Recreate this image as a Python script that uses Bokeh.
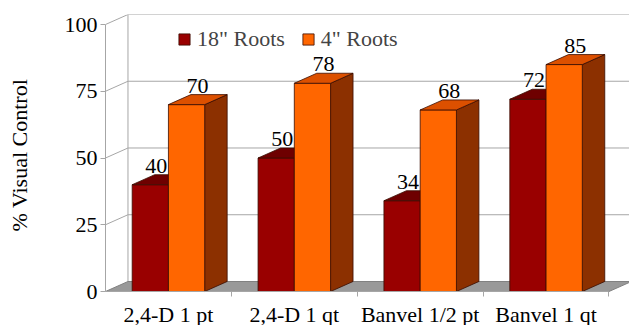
from bokeh.plotting import figure
from bokeh.models import Range1d, FixedTicker, Legend, LegendItem, ColumnDataSource, Title
from bokeh.embed import file_html
from bokeh.resources import INLINE

# ---- data ----
categories = ["2,4-D 1 pt", "2,4-D 1 qt", "Banvel 1/2 pt", "Banvel 1 qt"]
roots18 = [40, 50, 34, 72]
roots4 = [70, 78, 68, 85]
series_names = ['18" Roots', '4" Roots']
y_ticks = [0, 25, 50, 75, 100]
y_title = "% Visual Control"

# ---- style ----
FONT = "Liberation Serif"
FS = "22px"
DX = 0.1786   # 3D depth offset (x, category units)
DY = 3.75     # 3D depth offset (y, value units)
BW = 0.288    # bar width
GRID = "#a6a6a6"
EDGE = "#3a0c00"
C_DARK = ("#990000", "#6e0000", "#5a0000")      # front, top, side
C_ORANGE = ("#ff6600", "#dc5000", "#8c3000")

n = len(categories)
xs = list(range(n))

p = figure(width=629, height=325, output_backend="svg", toolbar_location=None,
           x_range=Range1d(-0.5, 3.663), y_range=Range1d(-12.73, 103.75),
           min_border_left=105, min_border_right=0, min_border_top=14,
           min_border_bottom=0)
p.outline_line_color = None
p.xgrid.visible = False
p.ygrid.visible = False

# back wall grid lines + left wall diagonals
gx, gy = [], []
for v in y_ticks[1:]:
    gx.append([-0.5, -0.5 + DX, n - 0.5 + DX])
    gy.append([v, v + DY, v + DY])
gx.append([-0.5 + DX, -0.5 + DX])
gy.append([DY, y_ticks[-1] + DY])
p.multi_line(gx, gy, line_color=GRID, line_width=1)

# floor
p.patch([-0.5, n - 0.5, n - 0.5 + DX, -0.5 + DX], [0, 0, DY, DY],
        fill_color="#999999", line_color="#808080", line_width=1)


def bars(vals, lefts, cols):
    rights = [l + BW for l in lefts]
    sx = [[r, r + DX, r + DX, r] for r in rights]
    sy = [[0, DY, v + DY, v] for v in vals]
    p.patches(sx, sy, fill_color=cols[2], line_color=EDGE, line_width=0.8)
    r = p.quad(left=lefts, right=rights, bottom=0, top=vals,
               fill_color=cols[0], line_color=EDGE, line_width=0.8)
    tx = [[l, rr, rr + DX, l + DX] for l, rr in zip(lefts, rights)]
    ty = [[v, v, v + DY, v + DY] for v in vals]
    p.patches(tx, ty, fill_color=cols[1], line_color=EDGE, line_width=0.8)
    return r


r1 = bars(roots18, [x - BW for x in xs], C_DARK)
r2 = bars(roots4, [x for x in xs], C_ORANGE)

# value labels
for vals, lefts, off in ((roots18, [x - BW for x in xs], 6),
                         (roots4, [x for x in xs], 11)):
    src = ColumnDataSource(dict(x=[l + BW / 2 for l in lefts],
                                y=[v + DY for v in vals],
                                t=[str(v) for v in vals]))
    p.text(x="x", y="y", text="t", source=src, x_offset=off, y_offset=-9,
           text_align="center", text_baseline="alphabetic",
           text_font={"value": FONT}, text_font_size=FS, text_color="black")

# y axis
ya = p.yaxis[0]
ya.ticker = FixedTicker(ticks=y_ticks)
ya.bounds = (0, 100)
ya.axis_line_color = GRID
ya.major_tick_line_color = GRID
ya.major_tick_in = 0
ya.major_tick_out = 5
ya.minor_tick_line_color = None
ya.major_label_text_font = FONT
ya.major_label_text_font_size = FS
ya.major_label_text_color = "black"
ya.major_label_standoff = 3

# spacer panel between the axis and its title, then the title itself
p.add_layout(Title(text=" ", text_font_size="1px", standoff=26), "left")
p.add_layout(Title(text=y_title, text_font=FONT, text_font_size=FS,
                   text_font_style="normal", text_color="black",
                   align="left", offset=94, standoff=2), "left")

# x axis (fixed at value 0 so labels sit below the floor)
xa = p.xaxis[0]
xa.fixed_location = 0
xa.ticker = FixedTicker(ticks=xs, minor_ticks=[x + 0.5 for x in xs])
xa.major_label_overrides = {i: c for i, c in enumerate(categories)}
xa.bounds = (-0.5, n - 0.5)
xa.axis_line_color = GRID
xa.major_tick_in = 0
xa.major_tick_out = 0
xa.major_tick_line_color = None
xa.minor_tick_in = 0
xa.minor_tick_out = 5
xa.minor_tick_line_color = GRID
xa.major_label_text_font = FONT
xa.major_label_text_font_size = FS
xa.major_label_text_color = "black"
xa.major_label_standoff = 5

legend = Legend(items=[LegendItem(label=series_names[0], renderers=[r1]),
                       LegendItem(label=series_names[1], renderers=[r2])],
                orientation="horizontal", location=(72, 273),
                border_line_color=None, background_fill_alpha=0,
                label_text_font=FONT, label_text_font_size=FS,
                glyph_width=14, glyph_height=14, label_standoff=6,
                spacing=16, padding=0, margin=0)
p.add_layout(legend, "center")

open("out.html", "w").write(file_html(p, INLINE))
